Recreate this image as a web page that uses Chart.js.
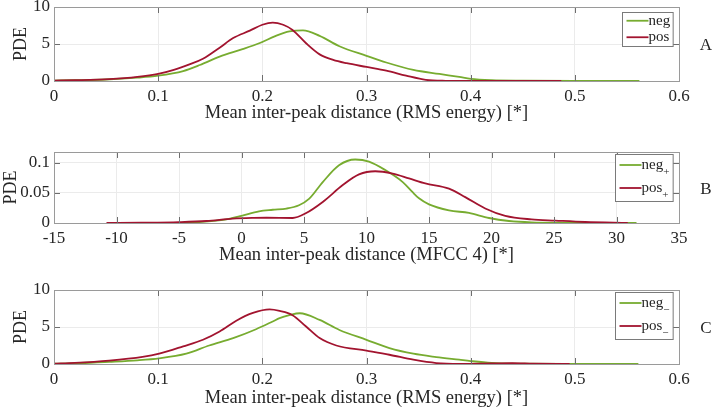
<!DOCTYPE html>
<html>
<head>
<meta charset="utf-8">
<script src="https://cdn.jsdelivr.net/npm/chart.js@4"></script>
<style>
  body { margin: 0; background: #fff; }
  .panel { position: absolute; left: 0; width: 714px; }
</style>
</head>
<body>
<div class="panel" style="top:0px"><canvas id="chartA" width="714" height="124"></canvas></div>
<div class="panel" style="top:145px"><canvas id="chartB" width="714" height="121"></canvas></div>
<div class="panel" style="top:283px"><canvas id="chartC" width="714" height="126"></canvas></div>
<script>
// Panel A: RMS energy
const aNegX = [0, 0.02, 0.05, 0.08, 0.1, 0.124, 0.14, 0.159, 0.181, 0.197, 0.213, 0.226, 0.239, 0.255, 0.274, 0.3, 0.319, 0.345, 0.37, 0.389, 0.4, 0.42, 0.45, 0.5, 0.562];
const aNegY = [0.05, 0.1, 0.2, 0.45, 0.72, 1.35, 2.16, 3.3, 4.3, 5.1, 6.1, 6.7, 6.85, 6.1, 4.7, 3.4, 2.5, 1.5, 0.95, 0.55, 0.3, 0.12, 0.05, 0.01, 0];
const aPosX = [0, 0.02, 0.053, 0.08, 0.1, 0.115, 0.13, 0.143, 0.159, 0.172, 0.188, 0.2, 0.21, 0.22, 0.229, 0.242, 0.255, 0.268, 0.281, 0.3, 0.319, 0.338, 0.357, 0.376, 0.4, 0.45, 0.487];
const aPosY = [0.05, 0.1, 0.25, 0.55, 0.95, 1.5, 2.25, 3.0, 4.5, 5.8, 6.8, 7.6, 7.9, 7.6, 6.9, 5.1, 3.6, 2.85, 2.4, 1.9, 1.4, 0.72, 0.15, 0.03, 0.01, 0, 0];

// Panel B: MFCC 4
const bNegX = [-5, -3.4, -2, -1, 0, 1.4, 2.5, 3.6, 4.6, 5.4, 6.5, 7.8, 9.1, 10.2, 11.5, 12.9, 13.65, 14.2, 15, 16.6, 18.2, 19.8, 21.4, 23.2, 26, 31.6];
const bNegY = [0, 0.0015, 0.004, 0.007, 0.012, 0.0195, 0.022, 0.024, 0.0295, 0.04, 0.068, 0.096, 0.1055, 0.102, 0.088, 0.068, 0.052, 0.041, 0.031, 0.021, 0.0167, 0.0083, 0.0033, 0.001, 0.0003, 0];
const bPosX = [-10.8, -8, -5, -2.8, -0.7, 1, 2, 4.1, 5.1, 6.5, 8.1, 9.4, 10.7, 12.1, 13.4, 14.7, 16.6, 17.9, 19.5, 21.1, 23.2, 25.1, 27.5, 30.9];
const bPosY = [0, 0.0005, 0.0015, 0.0033, 0.0073, 0.0085, 0.0087, 0.0083, 0.0157, 0.035, 0.063, 0.0807, 0.086, 0.082, 0.074, 0.0657, 0.057, 0.043, 0.024, 0.0117, 0.006, 0.004, 0.0017, 0];

// Panel C: RMS energy
const cNegX = [0, 0.02, 0.053, 0.08, 0.101, 0.127, 0.149, 0.172, 0.194, 0.21, 0.2166, 0.226, 0.236, 0.255, 0.274, 0.3, 0.322, 0.345, 0.367, 0.389, 0.4, 0.42, 0.45, 0.5, 0.561];
const cNegY = [0.05, 0.1, 0.3, 0.5, 0.76, 1.39, 2.5, 3.5, 4.7, 5.75, 6.2, 6.6, 6.86, 5.96, 4.6, 3.27, 2.15, 1.39, 0.94, 0.58, 0.4, 0.15, 0.05, 0.01, 0];
const cPosX = [0, 0.02, 0.053, 0.085, 0.101, 0.124, 0.143, 0.159, 0.175, 0.191, 0.207, 0.2166, 0.229, 0.242, 0.255, 0.271, 0.3, 0.322, 0.345, 0.367, 0.39, 0.42, 0.44, 0.46, 0.495];
const cPosY = [0.05, 0.15, 0.45, 0.95, 1.39, 2.38, 3.28, 4.4, 5.85, 6.9, 7.37, 7.17, 6.6, 5.06, 3.5, 2.5, 1.8, 1.25, 0.58, 0.13, 0.03, 0.08, 0.12, 0.05, 0];

const seriesNames = ['neg', 'pos'];
const panelSubs = ['', '+', '\u2212'];
const panelLetters = ['A', 'B', 'C'];
const xTitles = ['Mean inter-peak distance (RMS energy) [*]', 'Mean inter-peak distance (MFCC 4) [*]', 'Mean inter-peak distance (RMS energy) [*]'];

const GREEN = '#77ac30';
const RED = '#a2142f';
const TEXT = '#262626';
const FONT = "'Liberation Serif', 'Times New Roman', serif";

const pts = (xs, ys) => xs.map((x, i) => ({ x: x, y: ys[i] }));
const fmt = v => String(+v.toFixed(4));

// box, inward ticks, legend and panel letter (MATLAB look)
const matlabBox = {
  id: 'matlabBox',
  afterDatasetsDraw(chart, args, opts) {
    const { ctx, chartArea: a, scales } = chart;
    ctx.save();
    ctx.strokeStyle = '#6e6e6e';
    ctx.lineWidth = 1;
    ctx.beginPath();
    scales.x.ticks.forEach(t => {
      const px = Math.round(scales.x.getPixelForValue(t.value)) + 0.5;
      if (px <= a.left + 1 || px >= a.right - 1) return;
      ctx.moveTo(px, a.top); ctx.lineTo(px, a.top + 6);
      ctx.moveTo(px, a.bottom); ctx.lineTo(px, a.bottom - 6);
    });
    scales.y.ticks.forEach(t => {
      const py = Math.round(scales.y.getPixelForValue(t.value)) + 0.5;
      if (py <= a.top + 1 || py >= a.bottom - 1) return;
      ctx.moveTo(a.left, py); ctx.lineTo(a.left + 6, py);
      ctx.moveTo(a.right, py); ctx.lineTo(a.right - 6, py);
    });
    ctx.stroke();
    ctx.strokeStyle = '#9a9a9a';
    ctx.strokeRect(Math.round(a.left) + 0.5, Math.round(a.top) + 0.5, Math.round(a.width), Math.round(a.height));

    // legend
    const ds = chart.data.datasets;
    const fs = 15;
    ctx.font = fs + 'px ' + FONT;
    const sub = opts.sub;
    const rowH = sub ? 23 : 16.5;
    let textW = 0;
    ds.forEach(d => { textW = Math.max(textW, ctx.measureText(d.label).width); });
    const subW = sub ? 7 : 0;
    const boxW = 4 + 22 + textW + subW + 3;
    const boxH = rowH * ds.length + 1;
    const bx = Math.round(a.right - 6 - boxW) + 0.5;
    const by = Math.round(a.top + (sub ? 2 : 5)) + 0.5;
    ctx.fillStyle = '#fff';
    ctx.fillRect(bx, by, boxW, boxH);
    ctx.strokeStyle = '#7a7a7a';
    ctx.strokeRect(bx, by, boxW, boxH);
    ds.forEach((d, i) => {
      const cy = by + rowH * (i + 0.5) + (sub ? -1 : 0);
      ctx.strokeStyle = d.borderColor;
      ctx.lineWidth = 1.8;
      ctx.beginPath();
      ctx.moveTo(bx + 4, cy); ctx.lineTo(bx + 26, cy);
      ctx.stroke();
      ctx.fillStyle = TEXT;
      ctx.textBaseline = 'middle';
      ctx.textAlign = 'left';
      ctx.font = fs + 'px ' + FONT;
      ctx.fillText(d.label, bx + 26, cy);
      if (sub) {
        const w = ctx.measureText(d.label).width;
        ctx.font = '11px ' + FONT;
        ctx.fillText(sub, bx + 26 + w, cy + 7);
      }
    });

    // panel letter
    ctx.fillStyle = TEXT;
    ctx.font = '17px ' + FONT;
    ctx.textAlign = 'center';
    ctx.textBaseline = 'middle';
    ctx.fillText(opts.letter, a.right + 27, (a.top + a.bottom) / 2 + 2);
    ctx.restore();
  }
};

function makePanel(id, idx, negX, negY, posX, posY, xr, xStep, yr, yStep, xAxisH, yTitlePad) {
  new Chart(document.getElementById(id), {
    type: 'line',
    data: {
      datasets: [
        { label: seriesNames[0], data: pts(negX, negY), borderColor: GREEN, order: 1 },
        { label: seriesNames[1], data: pts(posX, posY), borderColor: RED, order: 0 }
      ]
    },
    options: {
      responsive: false,
      animation: false,
      devicePixelRatio: 1,
      layout: { padding: { left: 0, right: 35, top: 7, bottom: 0 } },
      elements: {
        point: { radius: 0 },
        line: { borderWidth: 1.8, cubicInterpolationMode: 'monotone', fill: false }
      },
      plugins: {
        legend: { display: false },
        tooltip: { enabled: false },
        matlabBox: { sub: panelSubs[idx], letter: panelLetters[idx] }
      },
      scales: {
        x: {
          type: 'linear', min: xr[0], max: xr[1],
          afterFit: s => { s.height = xAxisH; },
          border: { display: false },
          grid: { color: '#ebebeb', drawTicks: false },
          ticks: { stepSize: xStep, padding: 5, color: TEXT, font: { family: FONT, size: 17 }, callback: fmt, maxRotation: 0 },
          title: { display: true, text: xTitles[idx], color: TEXT, font: { family: FONT, size: 18.5 }, padding: 0 }
        },
        y: {
          min: yr[0], max: yr[1],
          afterFit: s => { s.width = 54; s.paddingTop = 0; s.paddingBottom = 0; },
          border: { display: false },
          grid: { color: '#ebebeb', drawTicks: false },
          ticks: { stepSize: yStep, includeBounds: false, padding: 4, color: TEXT, font: { family: FONT, size: 17 }, callback: fmt },
          title: { display: true, text: 'PDE', color: TEXT, font: { family: FONT, size: 18 }, padding: { top: yTitlePad, bottom: 0 } }
        }
      }
    },
    plugins: [matlabBox]
  });
}

makePanel('chartA', 0, aNegX, aNegY, aPosX, aPosY, [0, 0.6], 0.1, [0, 10], 5, 43, 10);
makePanel('chartB', 1, bNegX, bNegY, bPosX, bPosY, [-15, 35], 5, [0, 0.118], 0.05, 43, 0);
makePanel('chartC', 2, cNegX, cNegY, cPosX, cPosY, [0, 0.6], 0.1, [0, 10], 5, 45, 10);
</script>
</body>
</html>
